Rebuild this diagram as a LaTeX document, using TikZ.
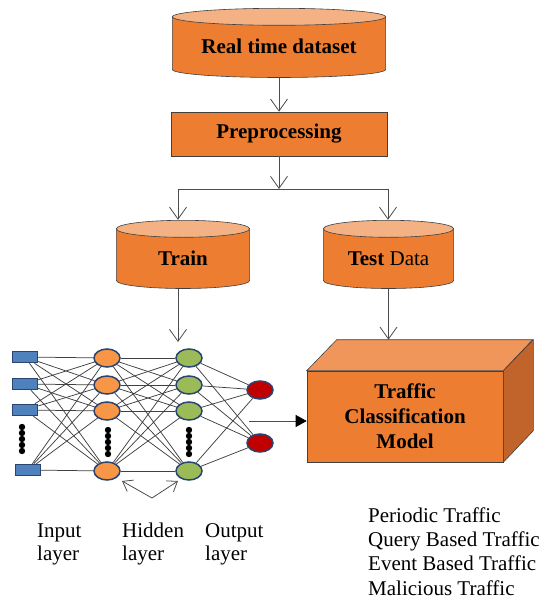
\documentclass[tikz,border=0pt]{standalone}
\usepackage{fontspec}
\setmainfont{Liberation Serif}
\usepackage{tikz}
\usetikzlibrary{shapes,arrows.meta,positioning}

\definecolor{orangebody}{HTML}{ED7D31}
\definecolor{cyltop}{HTML}{F4B183}
\definecolor{cubetop}{HTML}{F0965B}
\definecolor{cubeside}{HTML}{C0642B}
\definecolor{inblue}{HTML}{4F81BD}
\definecolor{hidorange}{HTML}{F79646}
\definecolor{hidgreen}{HTML}{9BBB59}
\definecolor{outred}{HTML}{C00000}
\definecolor{rimblue}{HTML}{2B4570}

\newcommand{\titlefont}{\bfseries\fontsize{21}{25}\selectfont}
\newcommand{\labelfont}{\fontsize{21}{23}\selectfont}

\begin{document}
\begin{tikzpicture}[
    x=1pt, y=-1pt,
    flow/.style={-{Straight Barb[length=12pt,width=17pt]}, draw=black!70, line width=0.8pt},
    smallflow/.style={-{Straight Barb[length=9pt,width=13pt]}, draw=black!70, line width=0.8pt},
    line/.style={draw=black!70, line width=0.8pt},
    wire/.style={draw=black!75, line width=0.75pt},
    box/.style={draw=black!75, fill=orangebody, line width=0.6pt, align=center, font=\titlefont},
    cyl/.style={minimum width=2*#1, text height=21pt, text depth=0pt, inner sep=0pt, font=\titlefont,
        path picture={
            \filldraw[draw=black!75, fill=orangebody, line width=0.6pt]
                ([xshift=0.4pt,yshift=-8.5pt]path picture bounding box.north west)
                -- ([xshift=0.4pt,yshift=8.5pt]path picture bounding box.south west)
                arc[start angle=180, end angle=360, x radius=#1-0.4pt, y radius=8pt]
                -- ([xshift=-0.4pt,yshift=-8.5pt]path picture bounding box.north east) -- cycle;
            \filldraw[draw=black!75, fill=cyltop, line width=0.6pt]
                ([yshift=-8.8pt]path picture bounding box.north) ellipse[x radius=#1-0.4pt, y radius=8.5pt];
        }},
    inp/.style={draw=rimblue, fill=inblue, line width=1.5pt, minimum width=25pt, minimum height=11pt, inner sep=0pt},
    neuron/.style={ellipse, draw=rimblue, line width=1.5pt, minimum width=26pt, minimum height=18pt, inner sep=0pt},
    hida/.style={neuron, fill=hidorange},
    hidb/.style={neuron, fill=hidgreen},
    outn/.style={neuron, fill=outred},
    lbl/.style={align=left, inner sep=0pt, font=\labelfont}
]
\useasboundingbox (0,0) rectangle (543,599);

\node[cyl=107pt, minimum height=70pt] (data) at (279,43) {Real time dataset};
\node[box, minimum width=216pt, minimum height=44pt] (prep) at (279,134) {Preprocessing};
\node[cyl=67pt, minimum height=69pt] (train) at (183,254.5) {Train};
\node[cyl=65.5pt, minimum height=69pt] (test) at (388.5,254.5) {Test \textmd{Data}};

\coordinate (sl) at (178,189);
\coordinate (sr) at (388,189);
\draw[flow] (data.south) -- (prep.north);
\draw[flow] (prep.south) -- (prep.south |- sl);
\draw[line] (sl) -- (sr);
\draw[flow] (sl) -- (sl |- train.north);
\draw[flow] (sr) -- (sr |- test.north);

\node[box, minimum width=196pt, minimum height=91pt] (model) at (405,416.5) {Traffic\\Classification\\Model};
\filldraw[draw=black!75, fill=cubetop, line width=0.6pt] (model.north west) -- ++(30,-31) -- ++(196,0) -- (model.north east) -- cycle;
\filldraw[draw=black!75, fill=cubeside, line width=0.6pt] (model.north east) -- ++(30,-31) -- ++(0,91) -- (model.south east) -- cycle;
\coordinate (mtop) at ([yshift=31pt]model.north);
\draw[flow] (test.south) -- (test.south |- mtop);

\foreach \y [count=\i] in {357,384,410}
    \node[inp] (in\i) at (25,\y) {};
\node[inp] (in4) at (28,470) {};
\foreach \y [count=\i] in {358,385,411,471} {
    \node[hida] (ha\i) at (107,\y) {};
    \node[hidb] (hb\i) at (189,\y) {};
}
\node[outn] (o1) at (260,390) {};
\node[outn] (o2) at (260,443) {};

\foreach \x/\y in {22/427, 108/430, 189/430}
    \foreach \k in {0,...,4}
        \fill (\x,\y+6*\k) circle[radius=3.2pt];

\foreach \i in {1,...,4}
    \foreach \j in {1,...,4} {
        \draw[wire] (in\i) -- (ha\j);
        \draw[wire] (ha\i) -- (hb\j);
    }
\foreach \i in {1,...,4} {
    \draw[wire] (hb\i) -- (o1);
    \draw[wire] (hb\i) -- (o2);
}

\coordinate (netin) at (178,342);
\draw[flow] (sl |- train.south) -- (netin);

\coordinate (fork) at (152,498);
\coordinate (fl) at (122,481);
\coordinate (fr) at (178,481);
\draw[smallflow] (fork) -- (fl);
\draw[smallflow] (fork) -- (fr);

\coordinate (nnout) at (249,421);
\draw[line, -{Triangle[length=11pt,width=12pt,color=black]}] (nnout) -- (nnout -| model.west);

\node[lbl, anchor=base west] (linput) at (37,560) {Input\\layer};
\node[lbl, anchor=base west] (lhidden) at (122,560) {Hidden\\layer};
\node[lbl, anchor=base west] (loutput) at (205,560) {Output\\layer};
\node[lbl, anchor=base west, font=\fontsize{21}{24.3}\selectfont] (classes) at (368,595)
    {Periodic Traffic\\Query Based Traffic\\Event Based Traffic\\Malicious Traffic};
\end{tikzpicture}
\end{document}
